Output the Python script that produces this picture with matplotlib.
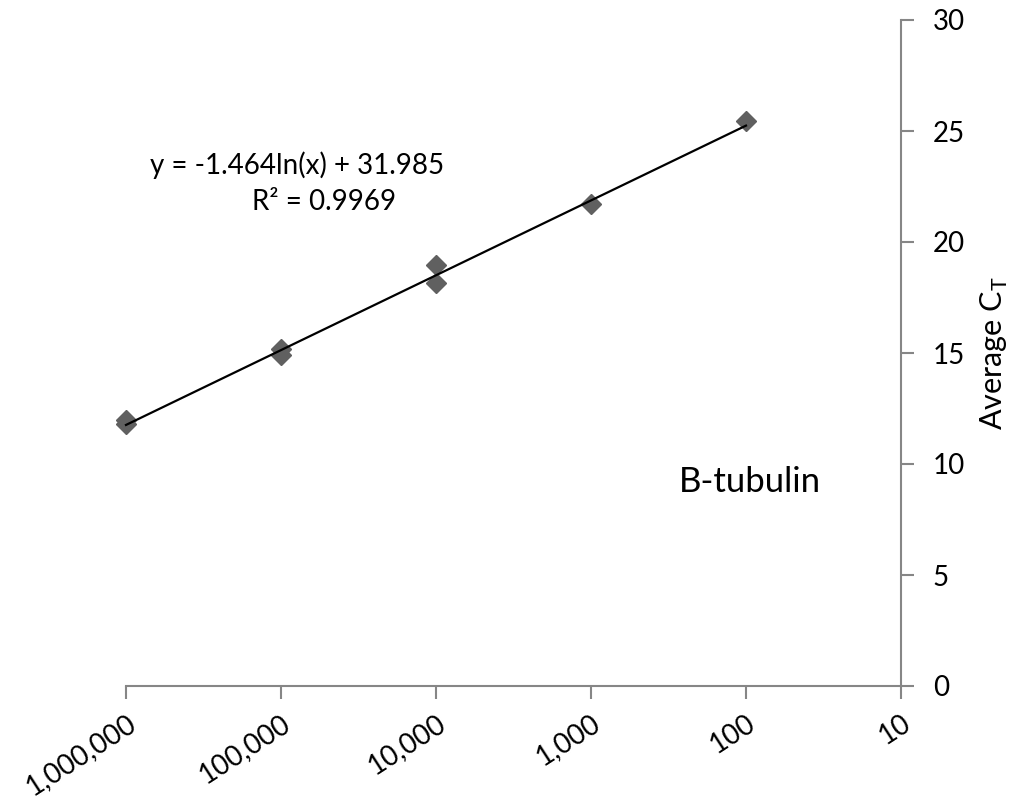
import numpy as np
import matplotlib.pyplot as plt

plt.rcParams['font.family'] = ['Lato', 'DejaVu Sans']

dilution = [1e6, 1e6, 1e5, 1e5, 1e4, 1e4, 1e3, 1e2]
avg_ct = [12.0, 11.8, 15.2, 14.9, 18.95, 18.15, 21.7, 25.45]
slope, intercept = -1.464, 31.985
xticks = [1e6, 1e5, 1e4, 1e3, 1e2, 1e1]
xticklabels = ["1,000,000", "100,000", "10,000", "1,000", "100", "10"]
yticks = [0, 5, 10, 15, 20, 25, 30]

axis_grey = "#868686"

fig = plt.figure(figsize=(10.18, 8), dpi=100)
ax = fig.add_axes([126/1018, 1 - 686/800, (901 - 126)/1018, (686 - 20)/800])

# trendline from the displayed equation
xt = np.logspace(6, 2, 50)
ax.plot(xt, slope*np.log(xt) + intercept, color="black", lw=1.6, zorder=3,
        clip_on=False)
ax.plot(dilution, avg_ct, linestyle="none", marker="D", ms=10.5,
        color="#606060", zorder=2, clip_on=False)

ax.set_xscale("log")
ax.set_xlim(1e6, 10)
ax.set_ylim(0, 30)
ax.set_xticks(xticks)
ax.set_xticklabels(xticklabels, rotation=33, ha="right", va="top",
                   rotation_mode="anchor")
ax.xaxis.set_minor_locator(plt.NullLocator())
ax.set_yticks(yticks)

ax.yaxis.tick_right()
ax.yaxis.set_label_position("right")
for s in ["top", "left"]:
    ax.spines[s].set_visible(False)
for s in ["bottom", "right"]:
    ax.spines[s].set_color(axis_grey)
    ax.spines[s].set_linewidth(1.5)
ax.tick_params(axis="both", colors=axis_grey, width=1.5, length=9,
               labelcolor="black", labelsize=20)
ax.tick_params(axis="x", pad=8)
ax.tick_params(axis="y", pad=14)

ax.set_ylabel("Average C$_\\mathregular{T}$", fontsize=22, labelpad=10)

ax.text(7.9e4, 23.47, "y = -1.464ln(x) + 31.985",
        ha="center", va="center", fontsize=20)
ax.text(5.3e4, 21.8, "R² = 0.9969",
        ha="center", va="center", fontsize=20)
ax.text(94, 9.19, "B-tubulin", ha="center", va="center", fontsize=25)

fig.savefig("out.png", dpi=100)
